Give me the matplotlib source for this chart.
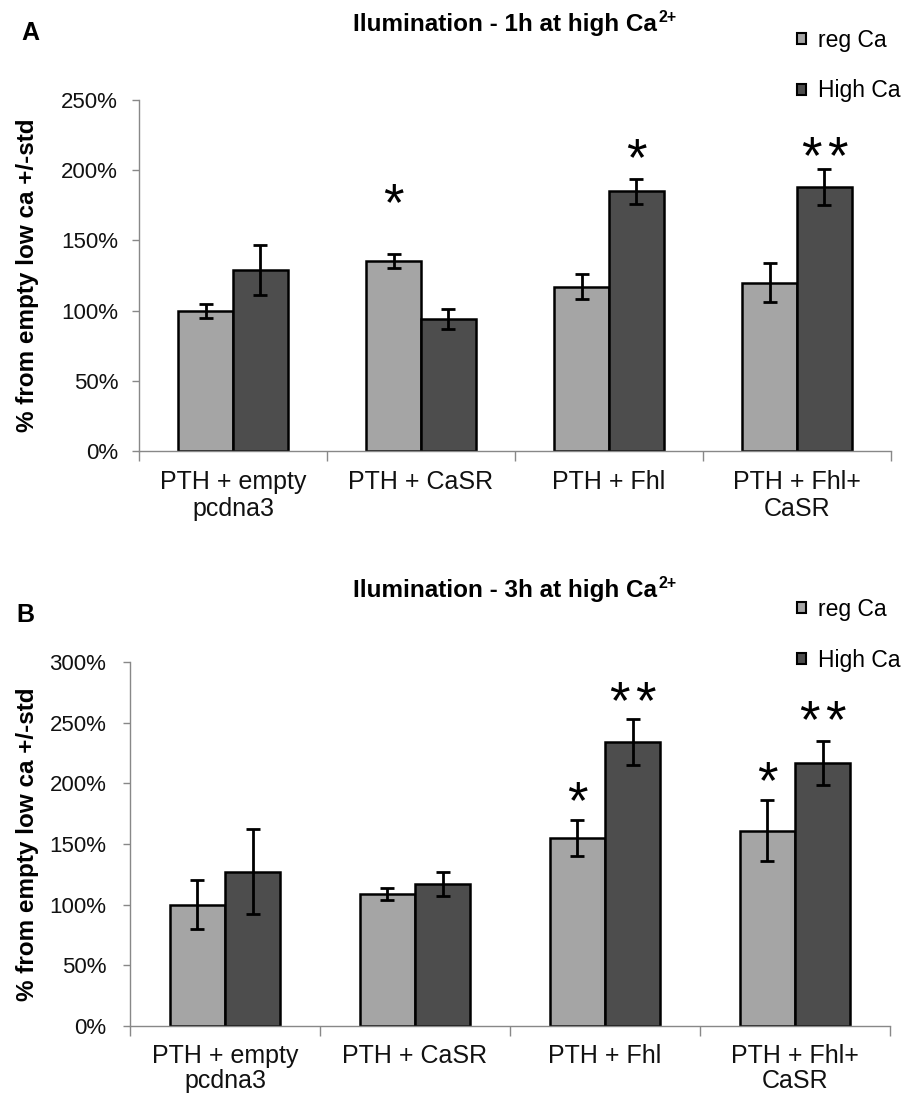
import matplotlib
matplotlib.use("Agg")
import matplotlib.pyplot as plt
import numpy as np
from matplotlib.ticker import FuncFormatter, FixedLocator
from matplotlib.patches import Patch

plt.rcParams['font.family'] = ['Liberation Sans', 'DejaVu Sans']

categories = ["PTH + empty\npcdna3", "PTH + CaSR", "PTH + Fhl", "PTH + Fhl+\nCaSR"]
series_names = ["reg Ca", "High Ca"]

# Panel A: 1h at high Ca
a_reg = [100, 135, 117, 120]
a_reg_err = [5, 5, 9, 14]
a_high = [129, 94, 185, 188]
a_high_err = [18, 7, 9, 13]
a_stars = [(1, 0, "*", 186), (2, 1, "*", 218), (3, 1, "**", 220)]

# Panel B: 3h at high Ca
b_reg = [100, 109, 155, 161]
b_reg_err = [20, 5, 15, 25]
b_high = [127, 117, 234, 217]
b_high_err = [35, 10, 19, 18]
b_stars = [(2, 0, "*", 197), (2, 1, "**", 279), (3, 0, "*", 213), (3, 1, "**", 263)]

reg_color = "#a5a5a5"
high_color = "#4d4d4d"
W, H = 920, 1100

fig = plt.figure(figsize=(W / 100, H / 100), dpi=100)
renderer = fig.canvas.get_renderer()


def title_with_sup(cx, cy, main, sup, fs):
    t = fig.text(0, 0, main, fontsize=fs, fontweight="bold", ha="left", va="center")
    s = fig.text(0, 0, sup, fontsize=fs * 0.66, fontweight="bold", ha="left", va="center")
    wm = t.get_window_extent(renderer).width
    ws = s.get_window_extent(renderer).width
    total = wm + ws + 1
    x0 = cx - total / 2
    t.set_position((x0 / W, 1 - cy / H))
    s.set_position(((x0 + wm + 1) / W, 1 - (cy - fs * 0.40) / H))


def panel(rect, reg, reg_err, high, high_err, stars, ymax, sup_title, letter, letter_xy, title_y, leg_y,
          ylab_x, xpad, ypad, lsp):
    ax = fig.add_axes(rect)
    x = np.arange(len(categories))
    bw = 0.29
    ax.bar(x - bw / 2, reg, bw, color=reg_color, edgecolor="black", linewidth=1.8, zorder=2)
    ax.bar(x + bw / 2, high, bw, color=high_color, edgecolor="black", linewidth=1.8, zorder=2)
    ax.errorbar(x - bw / 2, reg, yerr=reg_err, fmt="none", ecolor="black", elinewidth=2, capsize=5, capthick=2, zorder=3)
    ax.errorbar(x + bw / 2, high, yerr=high_err, fmt="none", ecolor="black", elinewidth=2, capsize=5, capthick=2, zorder=3)
    fs_star = 38
    for ci, si, s, yv in stars:
        xv = x[ci] + (bw / 2 if si == 1 else -bw / 2)
        n = len(s)
        for k in range(n):
            dx = (k - (n - 1) / 2) * 19
            ax.annotate("*", xy=(xv, yv), xytext=(dx, -0.58 * fs_star), textcoords="offset points",
                        ha="center", va="baseline", fontsize=fs_star, color="black")
    ax.set_xlim(-0.5, len(categories) - 0.5)
    ax.set_ylim(0, ymax)
    ax.yaxis.set_major_locator(FixedLocator(np.arange(0, ymax + 1, 50)))
    ax.yaxis.set_major_formatter(FuncFormatter(lambda v, p: f"{int(v)}%"))
    ax.xaxis.set_major_locator(FixedLocator(np.arange(-0.5, len(categories), 1.0)))
    ax.xaxis.set_major_formatter(FuncFormatter(lambda v, p: ""))
    ax.xaxis.set_minor_locator(FixedLocator(x))
    ax.set_xticklabels(categories, minor=True)
    for lbl in ax.get_xticklabels(minor=True):
        lbl.set_linespacing(lsp)
    ax.tick_params(axis="x", which="minor", length=0, pad=xpad, labelsize=18, labelcolor="#111111")
    ax.tick_params(axis="x", which="major", length=7, width=1, color="#888888", direction="out")
    ax.tick_params(axis="y", length=5, width=1, color="#888888", pad=ypad, labelsize=16, labelcolor="#111111")
    for sp in ["top", "right"]:
        ax.spines[sp].set_visible(False)
    for sp in ["left", "bottom"]:
        ax.spines[sp].set_color("#888888")
        ax.spines[sp].set_linewidth(1)
    ax.set_ylabel("% from empty low ca +/-std", fontsize=17.5, fontweight="bold")
    ax.yaxis.set_label_coords(ylab_x, 0.5)
    title_with_sup(515, title_y, sup_title[0], sup_title[1], 17.5)
    fig.text(letter_xy[0] / W, 1 - letter_xy[1] / H, letter, ha="center", va="center", fontsize=18, fontweight="bold")
    handles = [Patch(facecolor=reg_color, edgecolor="black", linewidth=1.5),
               Patch(facecolor=high_color, edgecolor="black", linewidth=1.5)]
    fig.legend(handles=handles, labels=series_names, loc="upper left",
               bbox_to_anchor=(797 / W, 1 - leg_y / H), frameon=False, fontsize=16.5,
               handlelength=0.38, handleheight=0.38, handletextpad=0.55, labelspacing=1.2,
               borderaxespad=0, borderpad=0)
    return ax


panel([139 / W, 1 - 451 / H, 752 / W, 351 / H], a_reg, a_reg_err, a_high, a_high_err, a_stars, 250,
      ("Ilumination - 1h at high Ca", "2+"), "A", (30, 33), 25, 29, -0.133, 14, 10, 1.15)
panel([130 / W, 1 - 1026 / H, 760 / W, 364 / H], b_reg, b_reg_err, b_high, b_high_err, b_stars, 300,
      ("Ilumination - 3h at high Ca", "2+"), "B", (25, 615), 590, 598, -0.12, 13, 12, 1.05)

fig.savefig("out.png", dpi=100)
